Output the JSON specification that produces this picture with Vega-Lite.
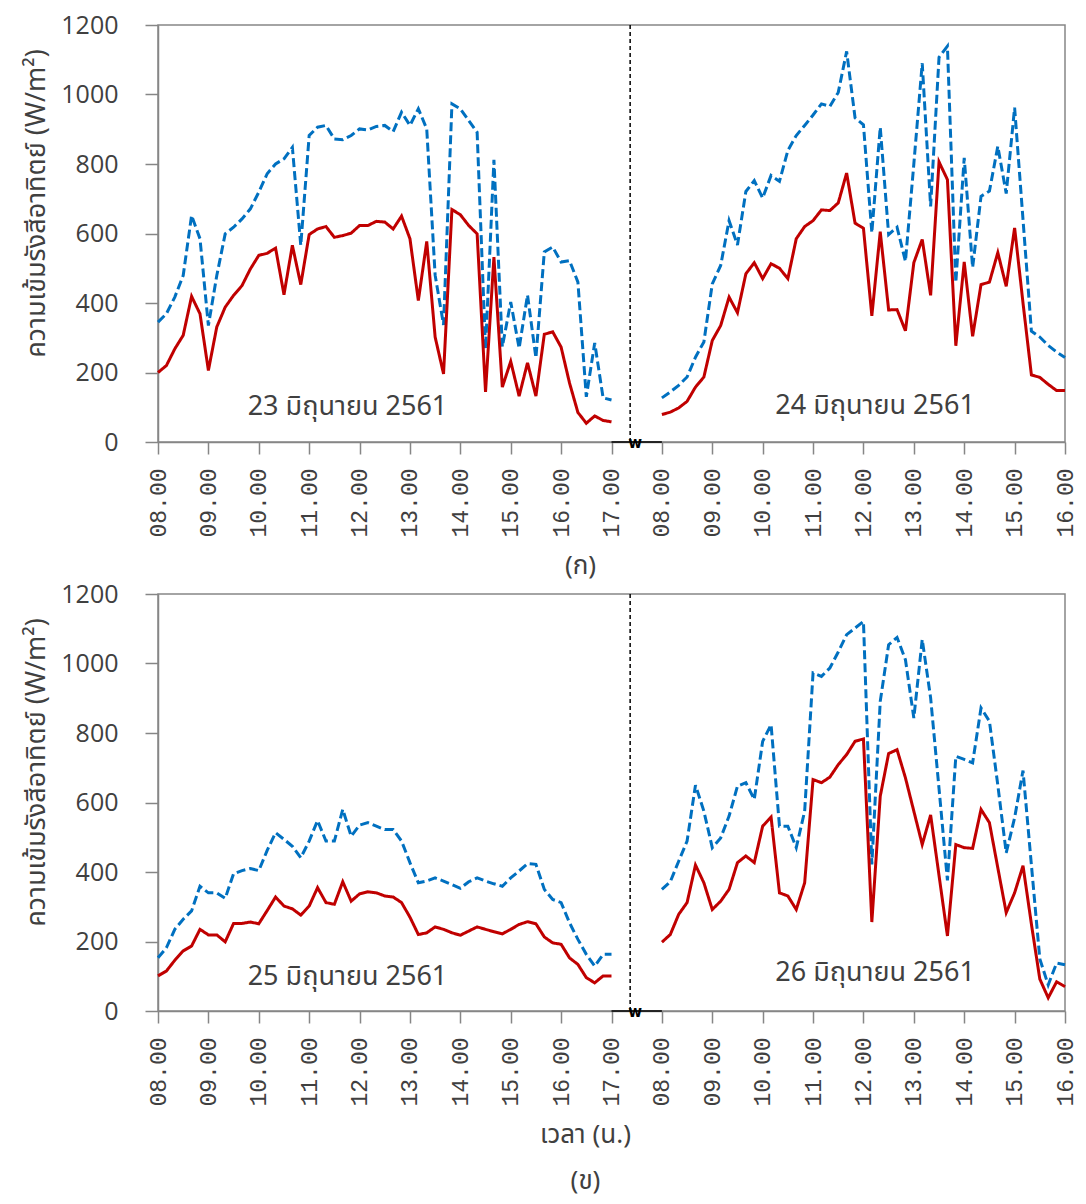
{
  "$schema": "https://vega.github.io/schema/vega-lite/v6.json",
  "padding": {"left": 22, "top": 12, "right": 18, "bottom": 0},
  "spacing": 2,
  "config": {
    "view": {"stroke": "#868686", "strokeWidth": 1.5},
    "font": "'Noto Sans Thai', 'Noto Sans', sans-serif",
    "axis": {"grid": false, "domainColor": "#868686", "tickColor": "#868686", "labelColor": "#404040", "titleColor": "#404040", "domainWidth": 1.5, "tickWidth": 1.5, "titleFontWeight": "normal"}
  },
  "datasets": {
    "radiation": [
      {"date":23,"time":"08:00","series1":345,"series2":200},
      {"date":23,"time":"08:10","series1":369,"series2":220},
      {"date":23,"time":"08:20","series1":417,"series2":268},
      {"date":23,"time":"08:30","series1":479,"series2":307},
      {"date":23,"time":"08:40","series1":652,"series2":419},
      {"date":23,"time":"08:50","series1":585,"series2":369},
      {"date":23,"time":"09:00","series1":335,"series2":206},
      {"date":23,"time":"09:10","series1":479,"series2":331},
      {"date":23,"time":"09:20","series1":599,"series2":388},
      {"date":23,"time":"09:30","series1":618,"series2":422},
      {"date":23,"time":"09:40","series1":642,"series2":450},
      {"date":23,"time":"09:50","series1":671,"series2":498},
      {"date":23,"time":"10:00","series1":719,"series2":537},
      {"date":23,"time":"10:10","series1":772,"series2":543},
      {"date":23,"time":"10:20","series1":800,"series2":558},
      {"date":23,"time":"10:30","series1":815,"series2":424},
      {"date":23,"time":"10:40","series1":848,"series2":566},
      {"date":23,"time":"10:50","series1":566,"series2":453},
      {"date":23,"time":"11:00","series1":882,"series2":597},
      {"date":23,"time":"11:10","series1":906,"series2":613},
      {"date":23,"time":"11:20","series1":911,"series2":620},
      {"date":23,"time":"11:30","series1":872,"series2":589},
      {"date":23,"time":"11:40","series1":870,"series2":594},
      {"date":23,"time":"11:50","series1":882,"series2":601},
      {"date":23,"time":"12:00","series1":901,"series2":623},
      {"date":23,"time":"12:10","series1":898,"series2":623},
      {"date":23,"time":"12:20","series1":908,"series2":635},
      {"date":23,"time":"12:30","series1":911,"series2":633},
      {"date":23,"time":"12:40","series1":893,"series2":613},
      {"date":23,"time":"12:50","series1":949,"series2":650},
      {"date":23,"time":"13:00","series1":911,"series2":585},
      {"date":23,"time":"13:10","series1":959,"series2":407},
      {"date":23,"time":"13:20","series1":901,"series2":577},
      {"date":23,"time":"13:30","series1":480,"series2":302},
      {"date":23,"time":"13:40","series1":337,"series2":196},
      {"date":23,"time":"13:50","series1":973,"series2":669},
      {"date":23,"time":"14:00","series1":959,"series2":654},
      {"date":23,"time":"14:10","series1":925,"series2":623},
      {"date":23,"time":"14:20","series1":891,"series2":599},
      {"date":23,"time":"14:30","series1":268,"series2":144},
      {"date":23,"time":"14:40","series1":812,"series2":532},
      {"date":23,"time":"14:50","series1":274,"series2":158},
      {"date":23,"time":"15:00","series1":403,"series2":232},
      {"date":23,"time":"15:10","series1":270,"series2":132},
      {"date":23,"time":"15:20","series1":423,"series2":228},
      {"date":23,"time":"15:30","series1":242,"series2":132},
      {"date":23,"time":"15:40","series1":547,"series2":310},
      {"date":23,"time":"15:50","series1":561,"series2":317},
      {"date":23,"time":"16:00","series1":518,"series2":273},
      {"date":23,"time":"16:10","series1":522,"series2":170},
      {"date":23,"time":"16:20","series1":460,"series2":85},
      {"date":23,"time":"16:30","series1":130,"series2":54},
      {"date":23,"time":"16:40","series1":285,"series2":75},
      {"date":23,"time":"16:50","series1":127,"series2":62},
      {"date":23,"time":"17:00","series1":121,"series2":58},
      {"date":24,"time":"08:00","series1":127,"series2":79},
      {"date":24,"time":"08:10","series1":144,"series2":86},
      {"date":24,"time":"08:20","series1":163,"series2":98},
      {"date":24,"time":"08:30","series1":187,"series2":117},
      {"date":24,"time":"08:40","series1":244,"series2":158},
      {"date":24,"time":"08:50","series1":288,"series2":187},
      {"date":24,"time":"09:00","series1":455,"series2":292},
      {"date":24,"time":"09:10","series1":508,"series2":335},
      {"date":24,"time":"09:20","series1":637,"series2":417},
      {"date":24,"time":"09:30","series1":567,"series2":372},
      {"date":24,"time":"09:40","series1":721,"series2":484},
      {"date":24,"time":"09:50","series1":752,"series2":516},
      {"date":24,"time":"10:00","series1":702,"series2":470},
      {"date":24,"time":"10:10","series1":767,"series2":513},
      {"date":24,"time":"10:20","series1":750,"series2":500},
      {"date":24,"time":"10:30","series1":839,"series2":470},
      {"date":24,"time":"10:40","series1":882,"series2":585},
      {"date":24,"time":"10:50","series1":911,"series2":620},
      {"date":24,"time":"11:00","series1":941,"series2":637},
      {"date":24,"time":"11:10","series1":973,"series2":668},
      {"date":24,"time":"11:20","series1":966,"series2":666},
      {"date":24,"time":"11:30","series1":1006,"series2":688},
      {"date":24,"time":"11:40","series1":1124,"series2":774},
      {"date":24,"time":"11:50","series1":933,"series2":630},
      {"date":24,"time":"12:00","series1":913,"series2":615},
      {"date":24,"time":"12:10","series1":602,"series2":363},
      {"date":24,"time":"12:20","series1":906,"series2":605},
      {"date":24,"time":"12:30","series1":597,"series2":380},
      {"date":24,"time":"12:40","series1":618,"series2":381},
      {"date":24,"time":"12:50","series1":520,"series2":320},
      {"date":24,"time":"13:00","series1":800,"series2":516},
      {"date":24,"time":"13:10","series1":1090,"series2":583},
      {"date":24,"time":"13:20","series1":678,"series2":422},
      {"date":24,"time":"13:30","series1":1107,"series2":806},
      {"date":24,"time":"13:40","series1":1139,"series2":755},
      {"date":24,"time":"13:50","series1":459,"series2":277},
      {"date":24,"time":"14:00","series1":818,"series2":518},
      {"date":24,"time":"14:10","series1":502,"series2":304},
      {"date":24,"time":"14:20","series1":707,"series2":453},
      {"date":24,"time":"14:30","series1":722,"series2":460},
      {"date":24,"time":"14:40","series1":851,"series2":545},
      {"date":24,"time":"14:50","series1":715,"series2":448},
      {"date":24,"time":"15:00","series1":962,"series2":616},
      {"date":24,"time":"15:10","series1":640,"series2":400},
      {"date":24,"time":"15:20","series1":319,"series2":193},
      {"date":24,"time":"15:30","series1":302,"series2":186},
      {"date":24,"time":"15:40","series1":278,"series2":166},
      {"date":24,"time":"15:50","series1":259,"series2":148},
      {"date":24,"time":"16:00","series1":243,"series2":148},
      {"date":25,"time":"08:00","series1":153,"series2":101},
      {"date":25,"time":"08:10","series1":182,"series2":115},
      {"date":25,"time":"08:20","series1":235,"series2":146},
      {"date":25,"time":"08:30","series1":264,"series2":173},
      {"date":25,"time":"08:40","series1":288,"series2":187},
      {"date":25,"time":"08:50","series1":359,"series2":235},
      {"date":25,"time":"09:00","series1":340,"series2":219},
      {"date":25,"time":"09:10","series1":340,"series2":219},
      {"date":25,"time":"09:20","series1":324,"series2":199},
      {"date":25,"time":"09:30","series1":395,"series2":252},
      {"date":25,"time":"09:40","series1":404,"series2":252},
      {"date":25,"time":"09:50","series1":410,"series2":256},
      {"date":25,"time":"10:00","series1":404,"series2":251},
      {"date":25,"time":"10:10","series1":462,"series2":289},
      {"date":25,"time":"10:20","series1":513,"series2":328},
      {"date":25,"time":"10:30","series1":494,"series2":302},
      {"date":25,"time":"10:40","series1":474,"series2":294},
      {"date":25,"time":"10:50","series1":441,"series2":276},
      {"date":25,"time":"11:00","series1":489,"series2":302},
      {"date":25,"time":"11:10","series1":548,"series2":355},
      {"date":25,"time":"11:20","series1":489,"series2":312},
      {"date":25,"time":"11:30","series1":489,"series2":307},
      {"date":25,"time":"11:40","series1":580,"series2":372},
      {"date":25,"time":"11:50","series1":503,"series2":316},
      {"date":25,"time":"12:00","series1":535,"series2":337},
      {"date":25,"time":"12:10","series1":542,"series2":343},
      {"date":25,"time":"12:20","series1":532,"series2":340},
      {"date":25,"time":"12:30","series1":522,"series2":331},
      {"date":25,"time":"12:40","series1":522,"series2":328},
      {"date":25,"time":"12:50","series1":489,"series2":312},
      {"date":25,"time":"13:00","series1":427,"series2":270},
      {"date":25,"time":"13:10","series1":369,"series2":220},
      {"date":25,"time":"13:20","series1":374,"series2":225},
      {"date":25,"time":"13:30","series1":383,"series2":242},
      {"date":25,"time":"13:40","series1":374,"series2":235},
      {"date":25,"time":"13:50","series1":364,"series2":225},
      {"date":25,"time":"14:00","series1":353,"series2":218},
      {"date":25,"time":"14:10","series1":372,"series2":230},
      {"date":25,"time":"14:20","series1":383,"series2":242},
      {"date":25,"time":"14:30","series1":374,"series2":235},
      {"date":25,"time":"14:40","series1":366,"series2":228},
      {"date":25,"time":"14:50","series1":359,"series2":222},
      {"date":25,"time":"15:00","series1":383,"series2":235},
      {"date":25,"time":"15:10","series1":403,"series2":249},
      {"date":25,"time":"15:20","series1":424,"series2":257},
      {"date":25,"time":"15:30","series1":422,"series2":251},
      {"date":25,"time":"15:40","series1":350,"series2":213},
      {"date":25,"time":"15:50","series1":321,"series2":196},
      {"date":25,"time":"16:00","series1":312,"series2":192},
      {"date":25,"time":"16:10","series1":254,"series2":153},
      {"date":25,"time":"16:20","series1":206,"series2":134},
      {"date":25,"time":"16:30","series1":163,"series2":96},
      {"date":25,"time":"16:40","series1":129,"series2":81},
      {"date":25,"time":"16:50","series1":163,"series2":101},
      {"date":25,"time":"17:00","series1":163,"series2":101},
      {"date":26,"time":"08:00","series1":350,"series2":198},
      {"date":26,"time":"08:10","series1":372,"series2":220},
      {"date":26,"time":"08:20","series1":431,"series2":278},
      {"date":26,"time":"08:30","series1":489,"series2":312},
      {"date":26,"time":"08:40","series1":650,"series2":420},
      {"date":26,"time":"08:50","series1":575,"series2":369},
      {"date":26,"time":"09:00","series1":470,"series2":292},
      {"date":26,"time":"09:10","series1":498,"series2":316},
      {"date":26,"time":"09:20","series1":561,"series2":350},
      {"date":26,"time":"09:30","series1":647,"series2":427},
      {"date":26,"time":"09:40","series1":657,"series2":446},
      {"date":26,"time":"09:50","series1":609,"series2":427},
      {"date":26,"time":"10:00","series1":776,"series2":532},
      {"date":26,"time":"10:10","series1":824,"series2":558},
      {"date":26,"time":"10:20","series1":532,"series2":340},
      {"date":26,"time":"10:30","series1":532,"series2":331},
      {"date":26,"time":"10:40","series1":470,"series2":292},
      {"date":26,"time":"10:50","series1":575,"series2":369},
      {"date":26,"time":"11:00","series1":973,"series2":666},
      {"date":26,"time":"11:10","series1":963,"series2":657},
      {"date":26,"time":"11:20","series1":987,"series2":673},
      {"date":26,"time":"11:30","series1":1033,"series2":709},
      {"date":26,"time":"11:40","series1":1083,"series2":738},
      {"date":26,"time":"11:50","series1":1102,"series2":776},
      {"date":26,"time":"12:00","series1":1121,"series2":783},
      {"date":26,"time":"12:10","series1":422,"series2":256},
      {"date":26,"time":"12:20","series1":891,"series2":618},
      {"date":26,"time":"12:30","series1":1054,"series2":741},
      {"date":26,"time":"12:40","series1":1075,"series2":752},
      {"date":26,"time":"12:50","series1":1011,"series2":671},
      {"date":26,"time":"13:00","series1":843,"series2":575},
      {"date":26,"time":"13:10","series1":1069,"series2":479},
      {"date":26,"time":"13:20","series1":901,"series2":564},
      {"date":26,"time":"13:30","series1":640,"series2":390},
      {"date":26,"time":"13:40","series1":376,"series2":216},
      {"date":26,"time":"13:50","series1":733,"series2":479},
      {"date":26,"time":"14:00","series1":724,"series2":470},
      {"date":26,"time":"14:10","series1":714,"series2":468},
      {"date":26,"time":"14:20","series1":872,"series2":580},
      {"date":26,"time":"14:30","series1":834,"series2":542},
      {"date":26,"time":"14:40","series1":650,"series2":412},
      {"date":26,"time":"14:50","series1":455,"series2":283},
      {"date":26,"time":"15:00","series1":556,"series2":340},
      {"date":26,"time":"15:10","series1":692,"series2":418},
      {"date":26,"time":"15:20","series1":420,"series2":250},
      {"date":26,"time":"15:30","series1":150,"series2":92},
      {"date":26,"time":"15:40","series1":75,"series2":38},
      {"date":26,"time":"15:50","series1":138,"series2":84},
      {"date":26,"time":"16:00","series1":133,"series2":70}
    ]
  },
  "vconcat": [
    {
      "width": 907,
      "height": 417,
      "layer": [
        {
          "data": {"name": "radiation"},
          "transform": [
            {"filter": "datum.date == 23 || datum.date == 24"},
            {"fold": ["series1", "series2"], "as": ["series", "value"]},
            {"calculate": "toNumber(slice(datum.time, 0, 2)) + toNumber(slice(datum.time, 3, 5)) / 60 - 8 + (datum.date == 24 || datum.date == 26 ? 10 : 0)", "as": "slot"}
          ],
          "mark": {"type": "line", "strokeWidth": 3},
          "encoding": {
            "x": {"field": "slot", "type": "quantitative", "scale": {"domain": [0, 18], "nice": false, "zero": false},
              "axis": {"values": [0,1,2,3,4,5,6,7,8,9,10,11,12,13,14,15,16,17,18],
                "labelExpr": "datum.value <= 9 ? format(datum.value + 8, '02d') + '.00' : format(datum.value - 2, '02d') + '.00'",
                "labelAngle": -90, "labelFont": "Liberation Mono", "labelFontSize": 23, "tickSize": 12, "labelPadding": 14,
                "labelFlush": false, "labelOverlap": false,
                "title": "(ก)", "titleFontSize": 26, "titleX": 422, "titlePadding": 15}},
            "y": {"field": "value", "type": "quantitative", "scale": {"domain": [0, 1200], "nice": false},
              "axis": {"values": [0,200,400,600,800,1000,1200], "format": "d", "tickSize": 13, "labelPadding": 27, "labelFontSize": 25, "labelFont": "Open Sans",
                "title": "ความเข้มรังสีอาทิตย์ (W/m²)", "titleFontSize": 27, "titleY": 178, "titlePadding": 10}},
            "color": {"field": "series", "type": "nominal", "scale": {"domain": ["series1", "series2"], "range": ["#0070C0", "#C00000"]}, "legend": null},
            "strokeDash": {"field": "series", "type": "nominal", "scale": {"domain": ["series1", "series2"], "range": [[9, 4], [1, 0]]}, "legend": null},
            "detail": {"field": "date", "type": "nominal"}
          }
        },
        {
          "data": {"values": [{}]},
          "mark": {"type": "rule", "color": "black", "strokeWidth": 1.5, "strokeDash": [4, 3]},
          "encoding": {"x": {"datum": 9.37, "type": "quantitative"}}
        },
        {
          "data": {"values": [{}]},
          "mark": {"type": "rule", "color": "black", "strokeWidth": 1.5},
          "encoding": {"x": {"datum": 9, "type": "quantitative"}, "x2": {"datum": 10}, "y": {"datum": 0, "type": "quantitative"}}
        },
        {
          "data": {"values": [{}]},
          "mark": {"type": "text", "text": "w", "font": "DejaVu Sans", "fontSize": 15, "fontWeight": "bold", "baseline": "middle", "dy": 1, "color": "black"},
          "encoding": {"x": {"datum": 9.47, "type": "quantitative"}, "y": {"datum": 0, "type": "quantitative"}}
        },
        {
          "data": {"values": [{}]},
          "mark": {"type": "text", "fontSize": 27, "color": "#404040", "baseline": "middle"},
          "encoding": {"x": {"datum": 3.76, "type": "quantitative"}, "y": {"datum": 100, "type": "quantitative"}, "text": {"value": "23 มิถุนายน 2561"}}
        },
        {
          "data": {"values": [{}]},
          "mark": {"type": "text", "fontSize": 27, "color": "#404040", "baseline": "middle"},
          "encoding": {"x": {"datum": 14.23, "type": "quantitative"}, "y": {"datum": 104, "type": "quantitative"}, "text": {"value": "24 มิถุนายน 2561"}}
        }
      ]
    },
    {
      "width": 907,
      "height": 417,
      "layer": [
        {
          "data": {"name": "radiation"},
          "transform": [
            {"filter": "datum.date == 25 || datum.date == 26"},
            {"fold": ["series1", "series2"], "as": ["series", "value"]},
            {"calculate": "toNumber(slice(datum.time, 0, 2)) + toNumber(slice(datum.time, 3, 5)) / 60 - 8 + (datum.date == 24 || datum.date == 26 ? 10 : 0)", "as": "slot"}
          ],
          "mark": {"type": "line", "strokeWidth": 3},
          "encoding": {
            "x": {"field": "slot", "type": "quantitative", "scale": {"domain": [0, 18], "nice": false, "zero": false},
              "axis": {"values": [0,1,2,3,4,5,6,7,8,9,10,11,12,13,14,15,16,17,18],
                "labelExpr": "datum.value <= 9 ? format(datum.value + 8, '02d') + '.00' : format(datum.value - 2, '02d') + '.00'",
                "labelAngle": -90, "labelFont": "Liberation Mono", "labelFontSize": 23, "tickSize": 12, "labelPadding": 14,
                "labelFlush": false, "labelOverlap": false,
                "title": ["เวลา (น.)", "(ข)"], "titleFontSize": 26, "titleLineHeight": 46, "titleX": 427, "titlePadding": 15}},
            "y": {"field": "value", "type": "quantitative", "scale": {"domain": [0, 1200], "nice": false},
              "axis": {"values": [0,200,400,600,800,1000,1200], "format": "d", "tickSize": 13, "labelPadding": 27, "labelFontSize": 25, "labelFont": "Open Sans",
                "title": "ความเข้มรังสีอาทิตย์ (W/m²)", "titleFontSize": 27, "titleY": 178, "titlePadding": 10}},
            "color": {"field": "series", "type": "nominal", "scale": {"domain": ["series1", "series2"], "range": ["#0070C0", "#C00000"]}, "legend": null},
            "strokeDash": {"field": "series", "type": "nominal", "scale": {"domain": ["series1", "series2"], "range": [[9, 4], [1, 0]]}, "legend": null},
            "detail": {"field": "date", "type": "nominal"}
          }
        },
        {
          "data": {"values": [{}]},
          "mark": {"type": "rule", "color": "black", "strokeWidth": 1.5, "strokeDash": [4, 3]},
          "encoding": {"x": {"datum": 9.37, "type": "quantitative"}}
        },
        {
          "data": {"values": [{}]},
          "mark": {"type": "rule", "color": "black", "strokeWidth": 1.5},
          "encoding": {"x": {"datum": 9, "type": "quantitative"}, "x2": {"datum": 10}, "y": {"datum": 0, "type": "quantitative"}}
        },
        {
          "data": {"values": [{}]},
          "mark": {"type": "text", "text": "w", "font": "DejaVu Sans", "fontSize": 15, "fontWeight": "bold", "baseline": "middle", "dy": 1, "color": "black"},
          "encoding": {"x": {"datum": 9.47, "type": "quantitative"}, "y": {"datum": 0, "type": "quantitative"}}
        },
        {
          "data": {"values": [{}]},
          "mark": {"type": "text", "fontSize": 27, "color": "#404040", "baseline": "middle"},
          "encoding": {"x": {"datum": 3.76, "type": "quantitative"}, "y": {"datum": 98, "type": "quantitative"}, "text": {"value": "25 มิถุนายน 2561"}}
        },
        {
          "data": {"values": [{}]},
          "mark": {"type": "text", "fontSize": 27, "color": "#404040", "baseline": "middle"},
          "encoding": {"x": {"datum": 14.23, "type": "quantitative"}, "y": {"datum": 110, "type": "quantitative"}, "text": {"value": "26 มิถุนายน 2561"}}
        }
      ]
    }
  ]
}
